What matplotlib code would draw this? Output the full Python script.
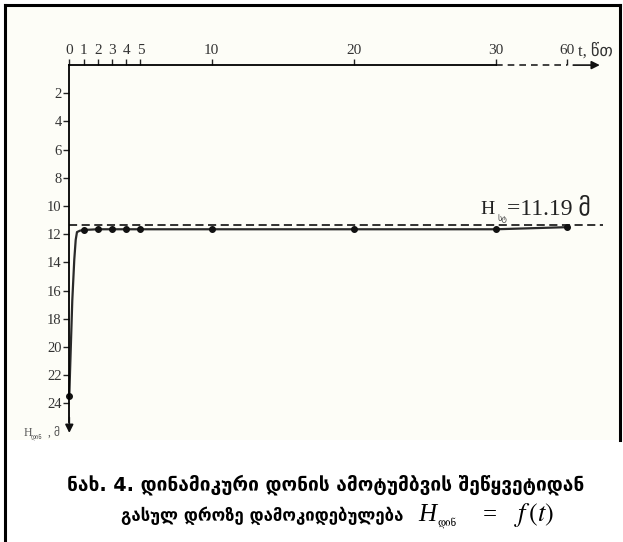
import numpy as np
import matplotlib.pyplot as plt
from matplotlib.lines import Line2D

plt.rcParams['mathtext.fontset'] = 'stix'

# figure size in pixels
W, H = 623, 542

# dynamic level readings (t in minutes, H in metres)
t_points = [0, 1, 2, 3, 4, 5, 10, 20, 30, 60]
h_points = [23.5, 11.7, 11.65, 11.65, 11.65, 11.65, 11.65, 11.65, 11.65, 11.5]
# recovery curve during the first minute
t_curve = [0, 0.05, 0.21, 0.35, 0.45, 0.54, 0.75, 1.0]
h_curve = [23.5, 21.8, 16.7, 13.8, 12.4, 11.85, 11.75, 11.7]
# static level line
h_static = 11.35
x_ticks = [0, 1, 2, 3, 4, 5, 10, 20, 30, 60]
y_ticks = list(range(2, 25, 2))

SERIF = ['Liberation Serif', 'DejaVu Sans']
GEO = ['DejaVu Sans']


# broken time axis: 30..60 squeezed into 5 units
def fwd(t):
    t = np.asarray(t, dtype=float)
    return np.where(t <= 30, t, 30 + (t - 30) / 6.0)


def inv(x):
    x = np.asarray(x, dtype=float)
    return np.where(x <= 30, x, 30 + (x - 30) * 6.0)


def px(x, y):
    # pixel position -> figure fraction
    return x / W, 1 - y / H


fig = plt.figure(figsize=(W / 100, H / 100), dpi=100)
fig.patch.set_facecolor('white')

# pale background of the chart part
fig.add_artist(plt.Rectangle(px(6, 440), 614 / W, 434 / H, transform=fig.transFigure,
                             facecolor='#fdfdf7', edgecolor='none', zorder=0))

ax = fig.add_axes([69.3 / W, 1 - 432.9 / H, 37.28 * 14.23 / W, (432.9 - 65.1) / H])
ax.set_facecolor('none')
ax.set_xscale('function', functions=(fwd, inv))
ax.set_xlim(0, 73.7)
ax.set_ylim(26.1, 0)

ax.xaxis.tick_top()
ax.set_xticks(x_ticks)
ax.set_xticklabels([str(t) for t in x_ticks])
ax.set_yticks(y_ticks)
ax.set_yticklabels([str(v) for v in y_ticks])
ax.tick_params(axis='x', direction='out', length=4, width=1, pad=2, labelsize=11,
               labelcolor='#333333', color='#222222')
ax.tick_params(axis='y', direction='out', length=4, width=1, pad=1.5, labelsize=10.5,
               labelcolor='#333333', color='#222222')
for lab in ax.get_xticklabels() + ax.get_yticklabels():
    lab.set_family(SERIF)

for side in ['right', 'bottom']:
    ax.spines[side].set_visible(False)
ax.spines['top'].set_bounds(0, 30)
ax.spines['left'].set_bounds(0, 25.3)
ax.spines['top'].set_linewidth(1.3)
ax.spines['left'].set_linewidth(1.3)

# dashed piece of the time axis and arrows
ax.plot([30, 60], [0, 0], color='#222222', lw=1.2, ls=(0, (4, 3)), clip_on=False)
ax.annotate('', xy=(73.7, 0), xytext=(62.5, 0), annotation_clip=False,
            arrowprops=dict(arrowstyle='-|>', color='#111111', lw=1.2, mutation_scale=12,
                            shrinkA=0, shrinkB=0))
ax.annotate('', xy=(0, 26.1), xytext=(0, 25.0), annotation_clip=False,
            arrowprops=dict(arrowstyle='-|>', color='#111111', lw=1.2, mutation_scale=12,
                            shrinkA=0, shrinkB=0))

# static level
ax.plot([0, 75], [h_static, h_static], color='#222222', lw=1.3, ls=(0, (4.5, 2.5)), clip_on=False)

# data
ax.plot(t_curve, h_curve, color='#2a2a2a', lw=1.6, clip_on=False)
ax.plot(t_points[1:], h_points[1:], color='#2a2a2a', lw=1.6, clip_on=False)
ax.plot(t_points, h_points, 'o', color='#111111', ms=4, clip_on=False)

# axis labels
fig.text(*px(578, 56), 't, წთ', family=SERIF, fontsize=12, color='#333333', va='baseline')
fig.text(*px(24, 436), 'H', family=SERIF, fontsize=8.5, color='#555555', va='baseline')
fig.text(*px(31, 438), 'დინ', family=GEO, fontsize=4.5, color='#555555', va='baseline')
fig.text(*px(48, 436), ', მ', family=SERIF, fontsize=8.5, color='#555555', va='baseline')

# static level label
fig.text(*px(480, 214), 'H', family=SERIF, fontsize=14, color='#222222', va='baseline')
fig.text(*px(497, 221), 'სტ', family=GEO, fontsize=6, color='#444444', va='baseline')
fig.text(*px(507, 214), '=11.19 მ', family=SERIF, fontsize=17, color='#222222', va='baseline')

# caption
fig.text(*px(326, 490), 'ნახ. 4. დინამიკური დონის ამოტუმბვის შეწყვეტიდან',
         family=GEO, fontsize=13.8, fontweight='bold', ha='center', va='baseline')
fig.text(*px(403, 521), 'გასულ დროზე დამოკიდებულება', family=GEO, fontsize=12.1,
         fontweight='bold', ha='right', va='baseline')
fig.text(*px(418, 521), 'H', family=SERIF, fontsize=18, style='italic', va='baseline')
fig.text(*px(437, 526), 'დინ', family=['DejaVu Serif', 'DejaVu Sans'], fontsize=7, va='baseline')
fig.text(*px(483, 521), '=', family=SERIF, fontsize=18, va='baseline')
fig.text(*px(514, 521), '$f\\,(t)$', fontsize=19, va='baseline')

# outer frame
frame = dict(color='black', lw=2.2, transform=fig.transFigure)
fig.add_artist(Line2D([5 / W, 5 / W], [1 - 5 / H, 0], **frame))
fig.add_artist(Line2D([5 / W, 620 / W], [1 - 5 / H, 1 - 5 / H], **frame))
fig.add_artist(Line2D([620 / W, 620 / W], [1 - 5 / H, 1 - 440 / H], **frame))

fig.savefig('out.png', dpi=100)
